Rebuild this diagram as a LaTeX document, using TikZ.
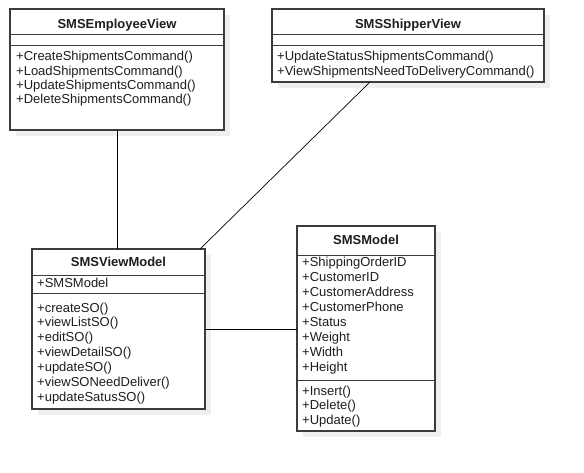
\documentclass[tikz,border=0pt]{standalone}
\usepackage{fontspec}
\setmainfont{Liberation Sans}
\usetikzlibrary{calc}
\definecolor{bordc}{HTML}{3C3C3C}
\definecolor{shadc}{HTML}{EFEFEF}
\definecolor{txtc}{HTML}{1E1E1E}
\begin{document}
\begin{tikzpicture}[x=1pt,y=-1pt,
  classbox/.style={draw=bordc, line width=1.3pt, fill=white, inner sep=0pt, outer sep=0pt, anchor=north west},
  shadowbox/.style={fill=shadc, draw=none},
  sepline/.style={draw=bordc, line width=1pt},
  ctitle/.style={font=\fontsize{13}{15}\selectfont\bfseries, text=txtc, anchor=base, inner sep=0pt},
  member/.style={font=\fontsize{13}{15}\selectfont, text=txtc, anchor=base west, inner sep=0pt},
  assoc/.style={draw=black, line width=0.7pt}]
\useasboundingbox (0,0) rectangle (584,472);
\fill[white] (0,0) rectangle (584,472);

% shadows
\fill[shadowbox] (16,15) rectangle (230,136);
\fill[shadowbox] (278,15) rectangle (550,88);
\fill[shadowbox] (38,255) rectangle (211,415);
\fill[shadowbox] (303,232) rectangle (441,437);

% class boxes
\node[classbox, minimum width=214pt, minimum height=121pt] (emp) at (10,9) {};
\node[classbox, minimum width=272pt, minimum height=73pt] (shp) at (272,9) {};
\node[classbox, minimum width=173pt, minimum height=160pt] (vm) at (32,249) {};
\node[classbox, minimum width=138pt, minimum height=205pt] (mdl) at (297,226) {};

% separators
\draw[sepline] (emp.west |- 0,34) -- (emp.east |- 0,34);
\draw[sepline] (emp.west |- 0,45) -- (emp.east |- 0,45);
\draw[sepline] (shp.west |- 0,34) -- (shp.east |- 0,34);
\draw[sepline] (shp.west |- 0,45) -- (shp.east |- 0,45);
\draw[sepline] (vm.west |- 0,275) -- (vm.east |- 0,275);
\draw[sepline] (vm.west |- 0,293) -- (vm.east |- 0,293);
\draw[sepline] (mdl.west |- 0,255) -- (mdl.east |- 0,255);
\draw[sepline] (mdl.west |- 0,380) -- (mdl.east |- 0,380);

% SMSEmployeeView
\node[ctitle] (empt) at (117,28) {SMSEmployeeView};
\node[member] (em1) at (16,60.7) {+CreateShipmentsCommand()};
\node[member] (em2) at (16,75) {+LoadShipmentsCommand()};
\node[member] (em3) at (16,89.3) {+UpdateShipmentsCommand()};
\node[member] (em4) at (16,103.6) {+DeleteShipmentsCommand()};

% SMSShipperView
\node[ctitle] (shpt) at (408,28) {SMSShipperView};
\node[member] (sm1) at (277,60.7) {+UpdateStatusShipmentsCommand()};
\node[member] (sm2) at (277,75) {+ViewShipmentsNeedToDeliveryCommand()};

% SMSViewModel
\node[ctitle] (vmt) at (118.5,266) {SMSViewModel};
\node[member] (va1) at (37,287) {+SMSModel};
\node[member] (vm1) at (37,312) {+createSO()};
\node[member] (vm2) at (37,326.8) {+viewListSO()};
\node[member] (vm3) at (37,341.7) {+editSO()};
\node[member] (vm4) at (37,356.5) {+viewDetailSO()};
\node[member] (vm5) at (37,371.3) {+updateSO()};
\node[member] (vm6) at (37,386.2) {+viewSONeedDeliver()};
\node[member] (vm7) at (37,401) {+updateSatusSO()};

% SMSModel
\node[ctitle] (mdlt) at (366,244) {SMSModel};
\node[member] (ma1) at (302,266) {+ShippingOrderID};
\node[member] (ma2) at (302,281) {+CustomerID};
\node[member] (ma3) at (302,296) {+CustomerAddress};
\node[member] (ma4) at (302,311) {+CustomerPhone};
\node[member] (ma5) at (302,326) {+Status};
\node[member] (ma6) at (302,341) {+Weight};
\node[member] (ma7) at (302,356) {+Width};
\node[member] (ma8) at (302,371) {+Height};
\node[member] (mm1) at (302,395) {+Insert()};
\node[member] (mm2) at (302,409.5) {+Delete()};
\node[member] (mm3) at (302,424) {+Update()};

% connectors
\draw[assoc] (emp.south) -- (emp.south |- vm.north);
\draw[assoc] ([xshift=-38pt]shp.south) -- ([xshift=81.5pt]vm.north);
\draw[assoc] (vm.east) -- (vm.east -| mdl.west);
\end{tikzpicture}
\end{document}
